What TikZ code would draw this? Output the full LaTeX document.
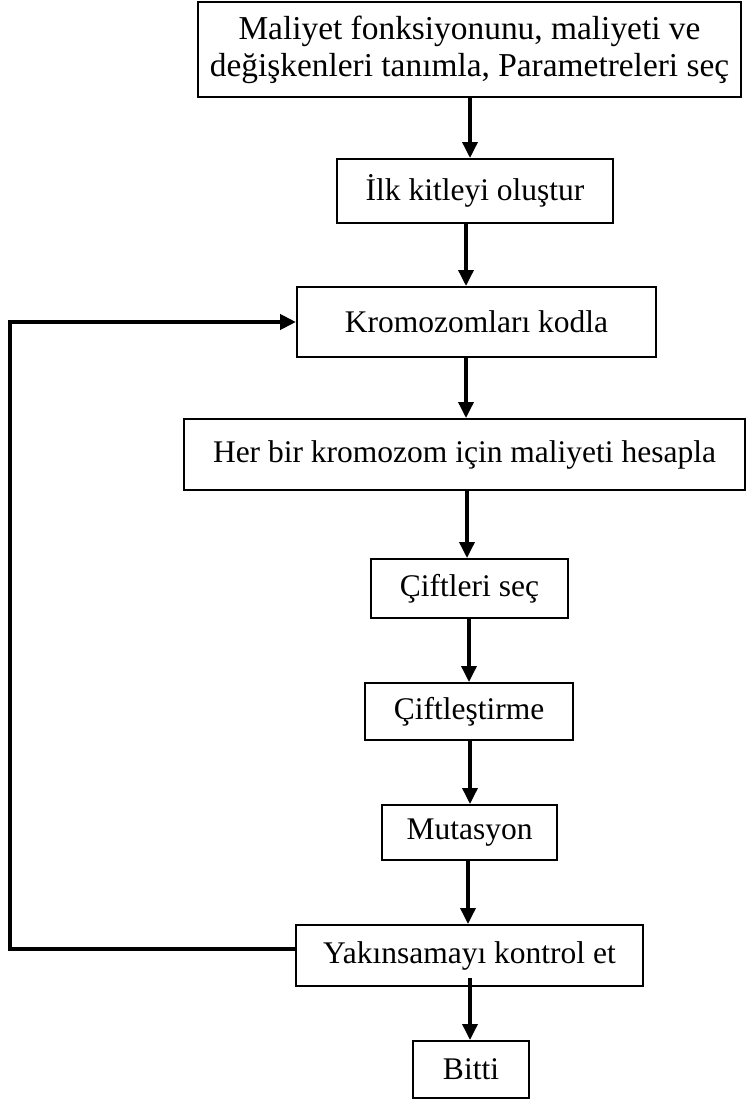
\documentclass[tikz,border=0pt]{standalone}
\usepackage{fontspec}
\setmainfont{Liberation Serif}
\usetikzlibrary{arrows.meta}
\begin{document}
\begin{tikzpicture}[x=1pt,y=-1pt,
  box/.style={draw, line width=2pt, inner sep=0pt, align=center,
    font=\fontsize{31.5}{34}\selectfont},
  bigtext/.style={font=\fontsize{33.4}{37}\selectfont},
  flow/.style={line width=3.5pt, -{Triangle[length=16pt,width=15pt]}},
  back/.style={line width=4pt, -{Triangle[length=16pt,width=15pt]}}]
\useasboundingbox (0,0) rectangle (746,1100);
\node[box, bigtext, minimum width=543, minimum height=95] (b1) at (469.5,49.5)
  {Maliyet fonksiyonunu, maliyeti ve\\değişkenleri tanımla, Parametreleri seç};
\node[box, minimum width=276, minimum height=64] (b2) at (475,191) {İlk kitleyi oluştur};
\node[box, minimum width=359, minimum height=70] (b3) at (476.5,322) {Kromozomları kodla};
\node[box, minimum width=561, minimum height=71] (b4) at (464.5,454.5) {Her bir kromozom için maliyeti hesapla};
\node[box, minimum width=197, minimum height=59] (b5) at (469.5,588.5) {Çiftleri seç};
\node[box, minimum width=208, minimum height=57] (b6) at (469,711.5) {Çiftleştirme};
\node[box, minimum width=175, minimum height=55] (b7) at (469.5,832.5) {Mutasyon};
\node[box, minimum width=347, minimum height=61] (b8) at (469.5,955.5) {Yakınsamayı kontrol et};
\node[box, minimum width=116, minimum height=57] (b9) at (471,1069.5) {Bitti};
\draw[flow] (b1.south -| 470,0) -- (b2.north -| 470,0);
\draw[flow] (b2.south -| 466,0) -- (b3.north -| 466,0);
\draw[flow] (b3.south -| 466,0) -- (b4.north -| 466,0);
\draw[flow] (b4.south -| 467,0) -- (b5.north -| 467,0);
\draw[flow] (b5.south -| 469,0) -- (b6.north -| 469,0);
\draw[flow] (b6.south -| 470,0) -- (b7.north -| 470,0);
\draw[flow] (b7.south -| 468,0) -- (b8.north -| 468,0);
\draw[flow] ([yshift=9pt]b8.south -| 470,0) -- (b9.north -| 470,0);
\coordinate (fbstart) at ([yshift=7pt]b8.west);
\coordinate (fbcorner) at (10,0);
\draw[back, line join=miter] (fbstart) -| (fbcorner |- b3.west) -- (b3.west);
\end{tikzpicture}
\end{document}
